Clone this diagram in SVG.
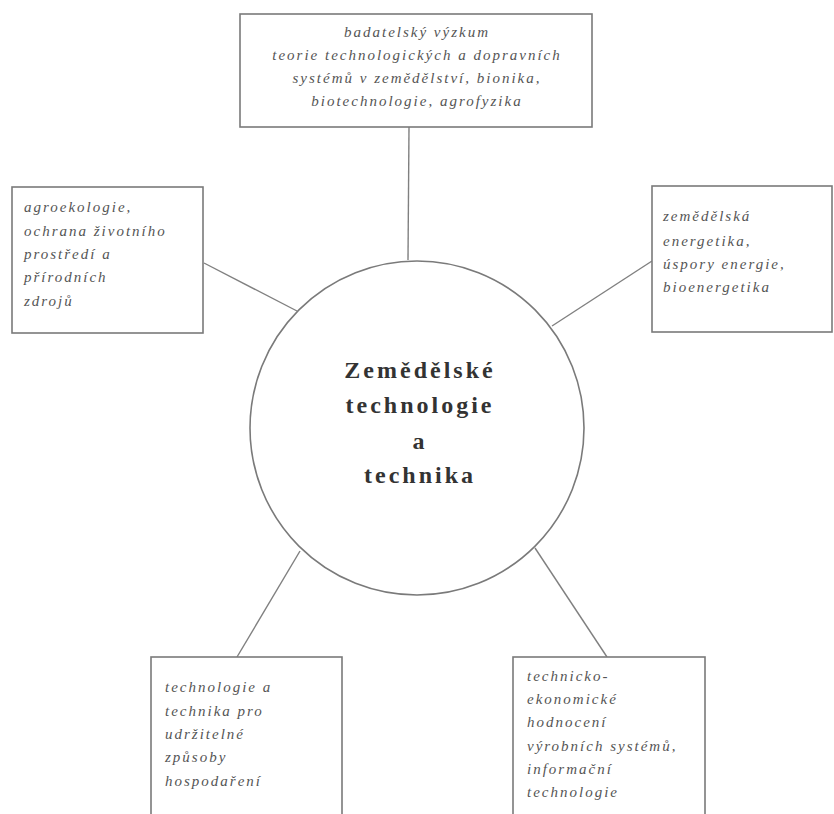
<svg xmlns="http://www.w3.org/2000/svg" width="834" height="814" viewBox="0 0 834 814">
<style>
.box{fill:#fff;stroke:#7a7a7a;stroke-width:1.6}
.lnk{stroke:#808080;stroke-width:1.4;fill:none}
.t{font-family:"Liberation Serif","Times New Roman",serif;font-style:italic;font-size:15px;letter-spacing:2px;fill:#555}
.c{font-family:"Liberation Serif","Times New Roman",serif;font-weight:bold;font-size:24px;letter-spacing:3px;fill:#333;text-anchor:middle}
</style>
<rect width="834" height="814" fill="#fff"/>
<g id="connectors">
<line class="lnk" x1="409" y1="127" x2="408" y2="260"/>
<line class="lnk" x1="204" y1="263" x2="297" y2="311"/>
<line class="lnk" x1="652" y1="261" x2="552" y2="326"/>
<line class="lnk" x1="237" y1="657" x2="300" y2="551"/>
<line class="lnk" x1="607" y1="657" x2="535" y2="548"/>
</g>
<g id="center">
<circle cx="417" cy="428" r="167" fill="#fff" stroke="#7a7a7a" stroke-width="1.6"/>
<text class="c" x="420" y="378">Zemědělské</text>
<text class="c" x="420" y="413">technologie</text>
<text class="c" x="420" y="449">a</text>
<text class="c" x="420" y="483">technika</text>
</g>
<g id="top">
<rect class="box" x="240" y="14" width="352" height="113"/>
<text class="t" text-anchor="middle" x="417"><tspan x="417" y="37">badatelský výzkum</tspan><tspan x="417" y="60">teorie technologických a dopravních</tspan><tspan x="417" y="83">systémů v zemědělství, bionika,</tspan><tspan x="417" y="106">biotechnologie, agrofyzika</tspan></text>
</g>
<g id="left">
<rect class="box" x="12" y="187" width="191" height="146"/>
<text class="t"><tspan x="24" y="212">agroekologie,</tspan><tspan x="24" y="236">ochrana životního</tspan><tspan x="24" y="259">prostředí a</tspan><tspan x="24" y="282">přírodních</tspan><tspan x="24" y="306">zdrojů</tspan></text>
</g>
<g id="right">
<rect class="box" x="652" y="186" width="180" height="146"/>
<text class="t"><tspan x="663" y="221">zemědělská</tspan><tspan x="663" y="246">energetika,</tspan><tspan x="663" y="269">úspory energie,</tspan><tspan x="663" y="292">bioenergetika</tspan></text>
</g>
<g id="bottom-left">
<rect class="box" x="151" y="657" width="191" height="160"/>
<text class="t"><tspan x="165" y="692">technologie a</tspan><tspan x="165" y="716">technika pro</tspan><tspan x="165" y="739">udržitelné</tspan><tspan x="165" y="762">způsoby</tspan><tspan x="165" y="786">hospodaření</tspan></text>
</g>
<g id="bottom-right">
<rect class="box" x="513" y="657" width="192" height="160"/>
<text class="t"><tspan x="527" y="681">technicko-</tspan><tspan x="527" y="704">ekonomické</tspan><tspan x="527" y="727">hodnocení</tspan><tspan x="527" y="751">výrobních systémů,</tspan><tspan x="527" y="774">informační</tspan><tspan x="527" y="797">technologie</tspan></text>
</g>
</svg>
